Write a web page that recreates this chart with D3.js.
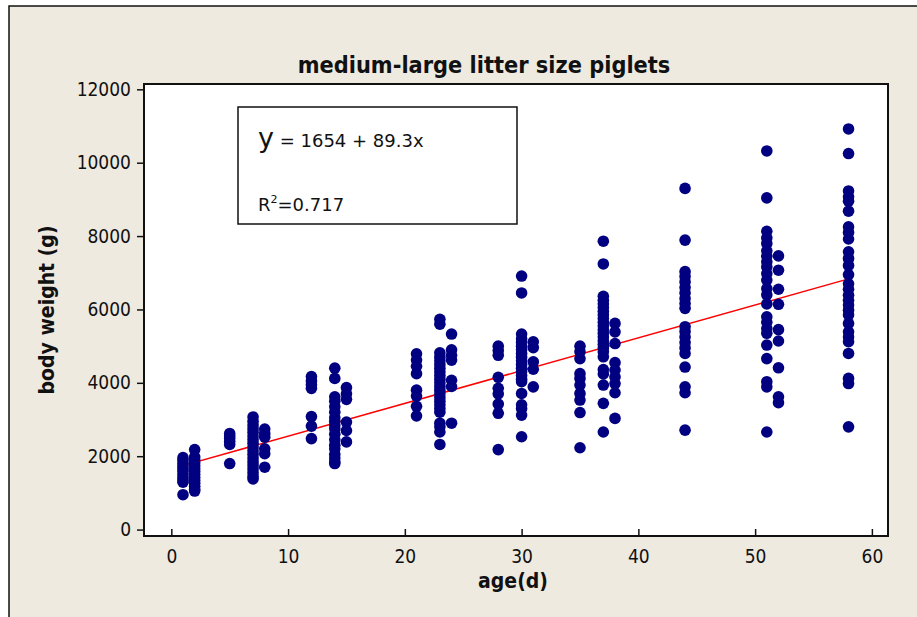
<!DOCTYPE html>
<html>
<head>
<meta charset="utf-8">
<script src="https://cdn.jsdelivr.net/npm/d3@7"></script>
<style>
  html, body { margin: 0; padding: 0; background: #ffffff; }
  svg { display: block; }
  .tick-label { font-family: 'DejaVu Sans Condensed', 'DejaVu Sans', sans-serif; font-stretch: condensed; font-size: 19px; fill: #111; }
  .title, .axis-title { font-family: 'DejaVu Sans Condensed', 'DejaVu Sans', sans-serif; font-stretch: condensed; font-weight: bold; fill: #111; }
  .eq { font-family: 'DejaVu Sans', sans-serif; fill: #111; }
</style>
</head>
<body>
<script>
// Piglet body weight by age (medium-large litters)
const ages = [1, 2, 5, 7, 8, 12, 14, 15, 21, 23, 24, 28, 30, 31, 35, 37, 38, 44, 51, 52, 58];
const weights = [
  [1960, 1880, 1800, 1720, 1650, 1580, 1500, 1420, 1350, 1290, 950],
  [2180, 1980, 1900, 1820, 1740, 1660, 1580, 1500, 1420, 1340, 1260, 1180, 1100, 1050],
  [2620, 2550, 2480, 2400, 2320, 1800],
  [3070, 2950, 2850, 2750, 2650, 2550, 2450, 2350, 2250, 2150, 2050, 1950, 1850, 1750, 1650, 1550, 1450, 1380],
  [2740, 2620, 2520, 2200, 2070, 1700],
  [4170, 4050, 3950, 3850, 3080, 2820, 2480],
  [4400, 4120, 3620, 3500, 3350, 3200, 3050, 2950, 2850, 2750, 2600, 2450, 2300, 2200, 2050, 1950, 1850, 1800],
  [3870, 3700, 3550, 2930, 2700, 2390],
  [4790, 4620, 4450, 4250, 3800, 3640, 3360, 3100],
  [5730, 5600, 4820, 4700, 4600, 4500, 4400, 4300, 4200, 4100, 4000, 3900, 3800, 3700, 3600, 3500, 3400, 3300, 3200, 2900, 2800, 2660, 2320],
  [5330, 4900, 4750, 4620, 4070, 3900, 2900],
  [5000, 4880, 4750, 4150, 3850, 3700, 3420, 3170, 2180],
  [6910, 6450, 5330, 5200, 5100, 5000, 4900, 4800, 4700, 4600, 4500, 4400, 4300, 4200, 4100, 4030, 3710, 3400, 3300, 3120, 2530],
  [5120, 4960, 4570, 4370, 3890],
  [5000, 4850, 4660, 4250, 4120, 3940, 3710, 3530, 3190, 2230],
  [7860, 7240, 6360, 6250, 6150, 6050, 5950, 5850, 5750, 5650, 5550, 5450, 5350, 5250, 5150, 5050, 4950, 4850, 4710, 4360, 4240, 3940, 3440, 2660],
  [5620, 5390, 5070, 4550, 4350, 4160, 3980, 3730, 3030],
  [9300, 7890, 7030, 6900, 6750, 6600, 6450, 6300, 6160, 6030, 5530, 5400, 5250, 5100, 4950, 4800, 4430, 3890, 3730, 2710],
  [10320, 9040, 8130, 7950, 7800, 7600, 7450, 7300, 7160, 6980, 6800, 6570, 6400, 6150, 5800, 5650, 5480, 5350, 5030, 4660, 4030, 3890, 2660],
  [7460, 7070, 6550, 6140, 5450, 5140, 4410, 3620, 3460],
  [10920, 10250, 9230, 9070, 8950, 8680, 8250, 8100, 7920, 7570, 7390, 7200, 6950, 6700, 6550, 6390, 6250, 6120, 5980, 5850, 5620, 5390, 5250, 5120, 4800, 4120, 3980, 2800]
];
const xTicks = [0, 10, 20, 30, 40, 50, 60];
const yTicks = [0, 2000, 4000, 6000, 8000, 10000, 12000];
const intercept = 1654;
const slope = 89.3;
const rSquared = 0.717;
const chartTitle = "medium-large litter size piglets";
const xTitle = "age(d)";
const yTitle = "body weight (g)";

const W = 917, H = 617;
const plot = { left: 144, right: 888, top: 84, bottom: 536 };

const svg = d3.select("body").append("svg").attr("width", W).attr("height", H);

// outer panel
svg.append("rect")
  .attr("x", 9).attr("y", 6).attr("width", W + 20).attr("height", H + 20)
  .attr("fill", "#eeeae0").attr("stroke", "#111").attr("stroke-width", 1.5);

const x = d3.scaleLinear().domain([-2.34, 61.38]).range([plot.left, plot.right]);
const y = d3.scaleLinear().domain([-175, 12145]).range([plot.bottom, plot.top]);

// plot area
svg.append("rect")
  .attr("x", plot.left).attr("y", plot.top)
  .attr("width", plot.right - plot.left).attr("height", plot.bottom - plot.top)
  .attr("fill", "#ffffff").attr("stroke", "#111").attr("stroke-width", 2);

// y axis: ticks point outward
const yAxis = d3.axisLeft(y).tickValues(yTicks).tickSize(7).tickPadding(6).tickFormat(d3.format("d"));
const gy = svg.append("g").attr("transform", `translate(${plot.left},0)`).call(yAxis);
gy.select(".domain").remove();
gy.selectAll(".tick line").attr("stroke", "#111").attr("stroke-width", 1.5);
gy.selectAll(".tick text").attr("class", "tick-label").attr("font-size", null).attr("font-family", null);

// x axis: ticks point into the plot
const xAxis = d3.axisBottom(x).tickValues(xTicks).tickSize(-7).tickPadding(14).tickFormat(d3.format("d"));
const gx = svg.append("g").attr("transform", `translate(0,${plot.bottom})`).call(xAxis);
gx.select(".domain").remove();
gx.selectAll(".tick line").attr("stroke", "#111").attr("stroke-width", 1.5);
gx.selectAll(".tick text").attr("class", "tick-label").attr("font-size", null).attr("font-family", null);

// points
const points = [];
ages.forEach((a, i) => weights[i].forEach(w => points.push({ age: a, w })));

const clipId = "plot-clip";
svg.append("clipPath").attr("id", clipId).append("rect")
  .attr("x", plot.left + 1).attr("y", plot.top + 1)
  .attr("width", plot.right - plot.left - 2).attr("height", plot.bottom - plot.top - 2);

const gPlot = svg.append("g").attr("clip-path", `url(#${clipId})`);

// fitted line
const xExtent = d3.extent(ages);
gPlot.append("line")
  .attr("x1", x(xExtent[0])).attr("y1", y(intercept + slope * xExtent[0]))
  .attr("x2", x(xExtent[1])).attr("y2", y(intercept + slope * xExtent[1]))
  .attr("stroke", "#ff0000").attr("stroke-width", 1.5);

gPlot.selectAll("circle").data(points).join("circle")
  .attr("cx", d => x(d.age)).attr("cy", d => y(d.w)).attr("r", 5.8)
  .attr("fill", "#000080");

// equation box
svg.append("rect")
  .attr("x", 238).attr("y", 107).attr("width", 279).attr("height", 117)
  .attr("fill", "#ffffff").attr("stroke", "#111").attr("stroke-width", 1.5);

const eq = svg.append("text").attr("class", "eq").attr("x", 258).attr("y", 147);
eq.append("tspan").attr("font-size", 27).text("y");
eq.append("tspan").attr("font-size", 18).text(` = ${intercept} + ${slope}x`);

const r2 = svg.append("text").attr("class", "eq").attr("x", 258).attr("y", 211).attr("font-size", 18);
r2.append("tspan").text("R");
r2.append("tspan").attr("font-size", 11).attr("dy", -8).text("2");
r2.append("tspan").attr("dy", 8).text(`=${rSquared}`);

// titles
svg.append("text").attr("class", "title")
  .attr("x", 484).attr("y", 73)
  .attr("text-anchor", "middle").attr("font-size", 23.3).text(chartTitle);

svg.append("text").attr("class", "axis-title")
  .attr("x", (plot.left + plot.right) / 2 - 3).attr("y", 588)
  .attr("text-anchor", "middle").attr("font-size", 21).text(xTitle);

svg.append("text").attr("class", "axis-title")
  .attr("transform", `translate(54,${(plot.top + plot.bottom) / 2}) rotate(-90)`)
  .attr("text-anchor", "middle").attr("font-size", 21).text(yTitle);
</script>
</body>
</html>
